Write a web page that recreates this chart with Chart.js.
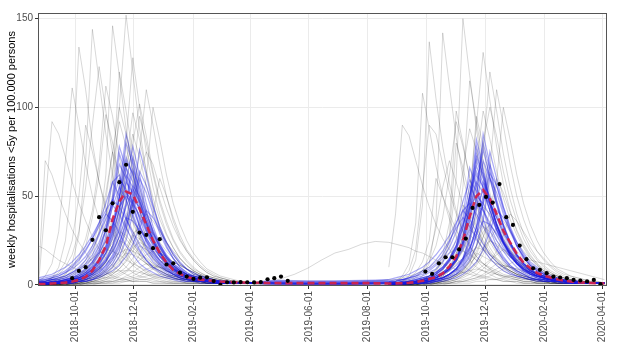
<!DOCTYPE html>
<html>
<head>
<meta charset="utf-8">
<script src="https://cdn.jsdelivr.net/npm/chart.js@4.4.1/dist/chart.umd.min.js"></script>
<style>
  body { margin: 0; background: #fff; }
  #plot { display: block; }
</style>
</head>
<body>
<canvas id="plot" width="631" height="352"></canvas>
<script>
// weekly model output (Fridays), 2018-08-24 .. 2020-04-03
const weeks = [
  '2018-08-24','2018-08-31','2018-09-07','2018-09-14','2018-09-21','2018-09-28','2018-10-05','2018-10-12','2018-10-19','2018-10-26',
  '2018-11-02','2018-11-09','2018-11-16','2018-11-23','2018-11-30','2018-12-07','2018-12-14','2018-12-21','2018-12-28','2019-01-04',
  '2019-01-11','2019-01-18','2019-01-25','2019-02-01','2019-02-08','2019-02-15','2019-02-22','2019-03-01','2019-03-08','2019-03-15',
  '2019-03-22','2019-03-29','2019-04-05','2019-04-12','2019-04-19','2019-04-26','2019-05-03','2019-05-10','2019-05-17','2019-05-24',
  '2019-05-31','2019-06-07','2019-06-14','2019-06-21','2019-06-28','2019-07-05','2019-07-12','2019-07-19','2019-07-26','2019-08-02',
  '2019-08-09','2019-08-16','2019-08-23','2019-08-30','2019-09-06','2019-09-13','2019-09-20','2019-09-27','2019-10-04','2019-10-11',
  '2019-10-18','2019-10-25','2019-11-01','2019-11-08','2019-11-15','2019-11-22','2019-11-29','2019-12-06','2019-12-13','2019-12-20',
  '2019-12-27','2020-01-03','2020-01-10','2020-01-17','2020-01-24','2020-01-31','2020-02-07','2020-02-14','2020-02-21','2020-02-28',
  '2020-03-06','2020-03-13','2020-03-20','2020-03-27','2020-04-03'
];
const weeksS1 = weeks.slice(0, 33);
const weeksS2 = weeks.slice(52);
const weeksSummer = ['2019-04-05','2019-04-19','2019-05-03','2019-05-17','2019-05-31','2019-06-14','2019-06-28','2019-07-12','2019-07-26','2019-08-09','2019-08-23'];

const tickDates = ['2018-10-01','2018-12-01','2019-02-01','2019-04-01','2019-06-01','2019-08-01','2019-10-01','2019-12-01','2020-02-01','2020-04-01'];
const yTicks = [0, 50, 100, 150];

// observed weekly hospitalisations
const obsDates = [
  '2018-09-28','2018-10-05','2018-10-12','2018-10-19','2018-10-26','2018-11-02','2018-11-09','2018-11-16','2018-11-23','2018-11-30',
  '2018-12-07','2018-12-14','2018-12-21','2018-12-28','2019-01-04','2019-01-11','2019-01-18','2019-01-25','2019-02-01','2019-02-08',
  '2019-02-15','2019-02-22','2019-03-01','2019-03-08','2019-03-15','2019-03-22','2019-03-29','2019-04-05','2019-04-12','2019-04-19',
  '2019-04-26','2019-05-03','2019-05-10',
  '2019-09-30','2019-10-07','2019-10-14','2019-10-21','2019-10-28','2019-11-04','2019-11-11','2019-11-18','2019-11-25','2019-12-02',
  '2019-12-09','2019-12-16','2019-12-23','2019-12-30','2020-01-06','2020-01-13','2020-01-20','2020-01-27','2020-02-03','2020-02-10',
  '2020-02-17','2020-02-24','2020-03-02','2020-03-09','2020-03-16','2020-03-23','2020-03-30'
];
const observed = [
  3.8,7.9,10,25.4,38.2,30.8,46,57.9,67.7,41.2,
  29.5,28.2,20.7,25.8,11.5,12.2,6.9,4.7,3.4,4.1,
  4.3,2.2,0,1.5,1.4,1.6,1.5,1.4,1.6,3.2,
  3.8,4.7,2.3,
  7.5,6.2,12.2,15.6,15.6,20,26.1,43.4,45.1,49.6,
  46.4,56.8,38.2,33.8,22.2,14.5,9.4,8.5,6.6,4.7,
  4.2,3.8,2.8,2.5,2,2.8,0.4
];

// median of the fitted runs (all weeks)
const median = [
  0.5,0.6,0.8,1,1.3,1.9,2.8,4.5,8,14,22,37,47,52.6,51,43,34,25,18,12.5,8.5,6.2,4.5,3.6,3,2.6,2.2,1.9,1.7,1.5,1.4,1.3,1.2,
  1.2,1.1,1.1,1,1,1,1,1,1,1,1,1,1,1,1,1,1,0.9,0.9,
  0.8,0.9,1,1.2,1.6,2.3,3.3,4.3,6.5,10.5,16,25,38.5,50,53.5,48.5,40,30.5,24,17.5,12.5,9.5,6.8,5.3,4.2,3.2,2.4,1.9,1.5,1.3,1.1,1,0.8
];

// fitted (blue) runs, season 2018/19 on weeksS1
const blueRunsS1 = [
  [1,1,1,2,2,3,4,6,9,14,22,34,55,85,70,52,38,27,19,13,9,6,5,4,3,2,2,2,1,1,1,1,1],
  [1,1,2,2,3,4,6,9,13,20,31,50,78,66,50,37,27,19,14,10,7,5,4,3,2,2,2,1,1,1,1,1,1],
  [0,1,1,1,1,2,2,3,5,7,11,17,28,46,72,58,42,30,21,15,10,7,5,4,3,2,2,1,1,1,1,1,1],
  [1,1,1,2,2,3,4,5,8,12,18,28,43,62,55,42,31,23,16,11,8,6,4,3,3,2,2,1,1,1,1,1,1],
  [2,2,3,4,5,7,10,14,20,28,40,58,50,38,28,20,14,10,7,5,4,3,2,2,2,1,1,1,1,1,1,1,1],
  [0,0,1,1,1,1,2,2,3,5,7,10,16,25,40,60,52,40,29,21,15,10,7,5,4,3,2,2,1,1,1,1,1],
  [1,1,1,2,3,4,6,8,12,19,30,48,68,60,45,33,24,17,12,8,6,4,3,3,2,2,1,1,1,1,1,1,1],
  [1,1,1,2,2,3,4,6,8,12,18,26,38,52,47,38,30,22,16,12,9,6,5,4,3,2,2,2,1,1,1,1,1],
  [1,1,1,1,2,2,3,4,6,8,11,16,24,34,48,44,36,28,21,15,11,8,6,4,3,3,2,2,1,1,1,1,1],
  [2,2,3,3,4,6,8,11,15,22,31,44,55,48,38,29,21,15,11,8,6,4,3,3,2,2,2,1,1,1,1,1,1],
  [0,1,1,1,2,2,3,4,7,11,18,30,50,80,68,50,36,25,17,12,8,5,4,3,2,2,1,1,1,1,1,1,1],
  [1,1,1,1,2,2,3,4,6,9,13,20,31,46,65,55,41,30,22,16,11,8,6,4,3,2,2,2,1,1,1,1,1],
  [3,3,4,5,7,9,12,16,22,29,37,45,40,32,25,19,14,10,8,6,4,3,3,2,2,2,1,1,1,1,1,1,1],
  [1,1,1,2,2,3,4,6,9,13,20,31,48,70,63,48,35,25,18,13,9,6,5,4,3,2,2,1,1,1,1,1,1],
  [0,0,1,1,1,1,2,2,3,4,6,8,11,16,23,32,42,38,31,24,18,13,9,7,5,4,3,2,2,1,1,1,1],
  [1,1,1,2,2,3,5,7,11,17,27,45,74,62,46,34,25,18,13,9,6,5,4,3,2,2,1,1,1,1,1,1,1],
  [1,1,1,1,1,2,2,3,5,7,10,15,23,36,56,50,40,31,23,17,12,9,6,5,4,3,2,2,2,1,1,1,1],
  [1,1,2,2,3,3,4,5,7,10,14,19,27,38,36,31,26,21,16,12,9,7,5,4,3,3,2,2,2,1,1,1,1],
  [3,4,5,6,8,11,15,20,26,33,40,36,29,22,17,12,9,7,5,4,3,2,2,2,1,1,1,1,1,1,1,1,1],
  [0,0,1,1,1,1,2,2,3,5,8,12,19,31,50,76,62,45,32,22,15,10,7,5,4,3,2,2,1,1,1,1,1],
  [2,3,4,5,7,10,14,19,26,35,46,58,62,52,40,30,22,16,12,9,6,5,4,3,2,2,2,1,1,1,1,1,1],
  [1,1,2,2,3,4,5,7,10,15,22,33,49,66,58,45,34,25,18,13,9,7,5,4,3,2,2,2,1,1,1,1,1],
  [0,1,1,1,1,2,3,4,6,9,14,22,36,58,78,62,46,33,23,16,11,8,6,4,3,2,2,1,1,1,1,1,1],
  [2,2,3,4,5,7,9,12,17,24,34,47,60,54,43,33,25,19,14,10,7,5,4,3,3,2,2,1,1,1,1,1,1],
  [1,1,1,1,2,2,3,5,7,10,15,22,32,44,54,47,38,29,22,16,12,9,6,5,4,3,2,2,2,1,1,1,1],
  [4,5,6,8,10,13,17,22,28,35,42,48,44,37,30,23,18,13,10,7,5,4,3,3,2,2,2,1,1,1,1,1,1],
  [1,1,1,2,2,3,4,6,9,14,21,32,50,72,62,47,35,26,19,14,10,7,5,4,3,2,2,1,1,1,1,1,1],
  [0,0,1,1,1,1,2,3,4,6,9,14,21,32,46,64,56,44,33,24,17,12,9,6,5,4,3,2,2,1,1,1,1],
  [1,1,2,2,3,4,5,7,10,14,20,29,42,58,52,42,32,24,18,13,9,7,5,4,3,2,2,2,1,1,1,1,1],
  [2,2,3,3,4,5,7,9,13,18,25,34,44,50,46,39,31,24,18,13,10,7,5,4,3,3,2,2,1,1,1,1,1]
];

// fitted (blue) runs, season 2019/20 on weeksS2
const blueRunsS2 = [
  [0,1,1,1,1,2,2,3,4,6,9,15,26,48,85,68,48,34,24,17,12,8,6,4,3,3,2,2,1,1,1,1,1],
  [1,1,1,1,2,2,3,4,6,9,14,24,44,78,64,47,34,24,17,12,8,6,4,3,3,2,2,1,1,1,1,1,1],
  [0,0,1,1,1,1,2,3,4,6,9,14,24,42,70,60,45,33,24,17,12,9,6,5,4,3,2,2,1,1,1,1,1],
  [1,1,1,1,2,3,4,5,7,10,15,24,38,62,55,42,31,23,16,12,8,6,5,4,3,2,2,1,1,1,1,1,1],
  [1,1,2,2,3,4,5,7,10,15,22,35,56,48,37,27,20,14,10,7,5,4,3,2,2,2,1,1,1,1,1,1,1],
  [0,0,0,1,1,1,1,2,3,4,6,9,14,22,36,60,52,40,30,22,16,11,8,6,4,3,3,2,2,1,1,1,1],
  [1,1,1,1,2,2,3,4,6,9,14,23,40,70,60,45,33,24,17,12,9,6,5,4,3,2,2,1,1,1,1,1,1],
  [0,1,1,1,1,2,2,3,4,6,9,13,20,32,50,46,38,30,23,17,12,9,7,5,4,3,2,2,2,1,1,1,1],
  [1,1,1,2,2,3,4,5,7,10,14,20,30,45,42,35,28,21,16,12,9,7,5,4,3,2,2,2,1,1,1,1,1],
  [1,1,1,2,2,3,4,6,9,14,22,38,66,56,42,31,22,16,11,8,6,4,3,3,2,2,1,1,1,1,1,1,1],
  [0,0,1,1,1,1,2,3,4,6,9,15,27,50,80,65,47,34,24,17,12,8,6,4,3,2,2,2,1,1,1,1,1],
  [0,0,0,1,1,1,2,2,3,5,7,11,17,28,45,68,56,42,31,22,16,11,8,6,4,3,2,2,1,1,1,1,1],
  [2,2,3,4,5,6,8,11,15,21,30,42,37,30,23,17,13,10,7,5,4,3,3,2,2,2,1,1,1,1,1,1,1],
  [1,1,1,1,2,2,3,4,6,9,14,24,44,74,62,46,34,24,17,12,9,6,5,4,3,2,2,1,1,1,1,1,1],
  [0,0,0,0,1,1,1,2,2,3,4,6,9,13,20,30,42,38,31,24,18,13,10,7,5,4,3,2,2,1,1,1,1],
  [0,1,1,1,1,2,3,4,6,9,15,26,48,82,66,48,34,24,17,12,8,6,4,3,2,2,2,1,1,1,1,1,1],
  [0,0,1,1,1,1,2,3,4,6,8,12,19,33,58,50,40,31,23,17,12,9,6,5,4,3,2,2,1,1,1,1,1],
  [1,1,1,2,2,3,3,4,6,8,11,15,21,29,36,34,29,24,19,14,11,8,6,5,4,3,2,2,2,1,1,1,1],
  [2,3,3,4,6,8,10,14,19,25,32,38,33,26,20,15,11,8,6,5,4,3,2,2,2,1,1,1,1,1,1,1,1],
  [0,0,0,1,1,1,1,2,3,4,6,10,16,28,48,75,60,44,32,22,15,11,8,6,4,3,2,2,1,1,1,1,1],
  [1,1,1,2,2,3,4,6,9,13,20,32,50,64,55,42,31,23,17,12,9,6,5,4,3,2,2,1,1,1,1,1,1],
  [1,1,2,2,3,4,5,7,10,15,22,33,50,67,57,45,34,25,18,13,9,7,5,4,3,2,2,2,1,1,1,1,1],
  [0,1,1,1,1,2,3,4,6,9,14,22,36,57,76,61,46,33,23,16,11,8,6,4,3,2,2,1,1,1,1,1,1],
  [2,2,3,4,5,7,9,12,17,24,34,47,59,53,43,33,25,19,14,10,7,5,4,3,3,2,2,1,1,1,1,1,1],
  [1,1,1,1,2,2,3,5,7,10,15,22,32,44,53,47,38,29,22,16,12,9,6,5,4,3,2,2,2,1,1,1,1],
  [3,4,5,6,8,10,13,17,22,28,35,42,46,40,33,26,20,15,11,8,6,4,3,3,2,2,2,1,1,1,1,1,1],
  [1,1,1,2,2,3,4,6,9,14,21,32,50,72,62,47,35,26,19,14,10,7,5,4,3,2,2,1,1,1,1,1,1],
  [0,0,1,1,1,1,2,3,4,6,9,14,21,32,46,63,56,44,33,24,17,12,9,6,5,4,3,2,2,1,1,1,1],
  [1,1,2,2,3,4,5,7,10,14,20,29,42,58,52,42,32,24,18,13,9,7,5,4,3,2,2,2,1,1,1,1,1],
  [2,2,3,3,4,5,7,9,13,18,25,34,44,50,46,39,31,24,18,13,10,7,5,4,3,3,2,2,1,1,1,1,1]
];

// prior (grey) runs, season 2018/19 on weeksS1
const greyRunsS1 = [
  [0,45,92,85,72,58,46,36,27,20,15,11,8,6,4,3,3,2,2,1,1,1,1,1,1,1,1,1,1,1,1,1,1],
  [5,70,62,50,40,31,24,18,13,10,7,5,4,3,2,2,2,1,1,1,1,1,1,1,1,1,1,1,1,1,1,1,1],
  [1,2,4,10,25,60,134,110,80,58,42,30,22,16,11,8,6,4,3,2,2,2,1,1,1,1,1,1,1,1,1,1,1],
  [1,1,2,3,6,12,28,70,144,115,85,62,45,33,24,17,12,9,6,5,4,3,2,2,1,1,1,1,1,1,1,1,1],
  [0,1,1,1,2,3,5,9,16,30,62,146,118,88,64,46,33,24,17,12,9,6,5,4,3,2,2,1,1,1,1,1,1],
  [0,0,1,1,1,2,3,5,8,14,25,50,100,152,120,88,64,46,33,24,17,12,9,6,5,4,3,2,2,1,1,1,1],
  [0,0,0,1,1,1,2,3,5,8,13,22,40,80,128,100,75,55,40,29,21,15,11,8,6,4,3,2,2,1,1,1,1],
  [0,0,0,0,1,1,1,2,3,4,6,10,16,27,45,75,110,90,68,50,36,26,19,14,10,7,5,4,3,2,2,1,1],
  [1,1,2,2,3,5,8,12,19,30,48,75,100,85,65,48,35,25,18,13,9,7,5,4,3,2,2,1,1,1,1,1,1],
  [1,2,3,4,6,10,16,26,42,68,112,95,72,53,39,28,20,15,11,8,6,4,3,2,2,1,1,1,1,1,1,1,1],
  [0,0,0,1,1,1,2,3,4,6,9,14,22,35,58,95,80,62,46,34,25,18,13,9,7,5,4,3,2,2,1,1,1],
  [2,3,4,6,10,17,30,55,90,123,98,74,55,41,30,22,16,12,9,6,5,4,3,2,2,1,1,1,1,1,1,1,1],
  [0,0,0,1,1,1,1,2,2,3,5,7,11,18,28,26,22,18,14,11,8,6,5,4,3,2,2,2,1,1,1,1,1],
  [0,0,0,0,0,1,1,1,2,2,3,5,7,10,15,22,20,17,14,11,8,6,5,4,3,2,2,1,1,1,1,1,1],
  [1,1,1,1,1,2,2,3,4,5,7,10,14,18,17,15,12,10,8,6,5,4,3,2,2,2,1,1,1,1,1,1,1],
  [0,0,0,0,0,0,1,1,1,1,2,2,3,5,7,10,12,11,10,8,7,5,4,3,3,2,2,1,1,1,1,1,1],
  [1,1,1,1,2,2,3,4,6,9,13,19,25,23,19,15,12,9,7,5,4,3,2,2,2,1,1,1,1,1,1,1,1],
  [0,0,0,0,0,0,0,0,1,1,1,1,2,2,3,4,5,6,6,5,5,4,3,3,2,2,2,1,1,1,1,1,1],
  [22,20,17,14,12,10,8,7,6,5,4,4,3,3,2,2,2,1,1,1,1,1,1,1,1,1,1,1,1,1,1,1,1],
  [0,0,0,0,0,0,1,1,1,2,2,3,5,7,11,17,26,40,60,50,38,28,20,15,11,8,6,4,3,2,2,1,1],
  [1,2,4,7,13,25,50,90,75,58,44,33,25,18,13,10,7,5,4,3,2,2,1,1,1,1,1,1,1,1,1,1,1],
  [0,1,1,1,2,3,4,7,11,18,32,60,120,98,74,55,40,29,21,15,11,8,6,4,3,2,2,1,1,1,1,1,1],
  [1,1,2,2,3,4,6,8,12,17,25,35,31,26,21,17,13,10,8,6,4,3,3,2,2,1,1,1,1,1,1,1,1],
  [0,0,0,0,0,0,0,1,1,1,1,2,2,3,4,5,7,9,12,15,13,11,9,7,5,4,3,2,2,1,1,1,1],
  [2,5,12,30,70,111,90,68,50,37,27,20,14,10,7,5,4,3,2,2,1,1,1,1,1,1,1,1,1,1,1,1,1],
  [0,0,1,1,1,2,3,4,6,10,16,26,42,65,85,72,56,42,31,23,17,12,9,6,5,4,3,2,2,1,1,1,1],
  [0,0,0,0,0,1,1,1,2,3,4,6,9,14,22,36,60,100,82,62,46,34,25,18,13,9,7,5,4,3,2,2,1],
  [1,1,2,3,4,6,9,14,22,34,52,75,62,48,36,27,20,15,11,8,6,4,3,2,2,1,1,1,1,1,1,1,1],
  [0,0,0,1,1,1,2,2,3,4,6,9,13,19,27,35,40,36,30,24,19,15,11,8,6,5,4,3,2,2,1,1,1],
  [1,1,1,2,2,3,4,5,7,9,12,15,18,20,19,17,15,12,10,8,6,5,4,3,3,2,2,1,1,1,1,1,1],
  [0,0,0,0,1,1,1,1,2,2,3,4,6,8,11,14,17,19,18,16,13,11,9,7,5,4,3,3,2,2,1,1,1],
  [0,0,1,1,1,2,2,3,4,6,8,11,15,21,29,32,28,23,18,14,11,8,6,5,4,3,2,2,1,1,1,1,1],
  [0,0,0,0,0,0,0,1,1,1,2,2,3,4,5,7,9,10,10,9,8,7,6,5,4,3,3,2,2,1,1,1,1],
  [1,1,1,1,2,2,3,3,4,5,6,7,8,8,8,7,6,5,5,4,3,3,2,2,2,1,1,1,1,1,1,1,1],
  [0,1,1,1,2,3,4,6,9,13,18,24,30,28,23,18,14,11,8,6,5,4,3,2,2,1,1,1,1,1,1,1,1],
  [0,0,0,0,0,1,1,1,2,3,4,6,9,13,19,26,31,29,24,19,15,11,9,7,5,4,3,2,2,1,1,1,1],
  [0,0,0,0,0,0,0,0,0,1,1,1,1,2,2,3,3,4,4,4,4,3,3,3,2,2,2,1,1,1,1,1,1],
  [2,2,3,4,5,7,9,12,15,18,20,19,17,14,12,10,8,6,5,4,3,3,2,2,1,1,1,1,1,1,1,1,1],
  [0,0,1,1,1,2,3,4,6,9,13,19,27,38,45,40,33,26,20,15,11,8,6,5,4,3,2,2,1,1,1,1,1],
  [0,0,0,0,1,1,1,2,3,4,6,8,12,16,21,24,22,19,16,13,10,8,6,5,4,3,2,2,2,1,1,1,1],
  [0,0,1,1,2,3,5,8,13,22,38,65,92,78,60,45,34,25,19,14,10,7,5,4,3,2,2,1,1,1,1,1,1],
  [1,1,2,3,5,8,13,22,38,62,96,80,61,46,35,26,19,14,10,8,6,4,3,2,2,1,1,1,1,1,1,1,1],
  [0,0,0,0,1,1,2,3,5,8,13,21,34,55,80,102,84,64,48,36,26,19,14,10,7,5,4,3,2,2,1,1,1],
  [0,0,0,1,1,2,3,4,7,11,17,27,43,68,97,82,64,49,37,28,21,15,11,8,6,4,3,2,2,1,1,1,1],
  [0,0,0,0,0,1,1,2,3,5,8,12,19,30,45,62,75,68,55,43,33,25,19,14,10,7,5,4,3,2,2,1,1]
];

// prior (grey) runs, season 2019/20 on weeksS2
const greyRunsS2 = [
  [0,1,2,5,14,45,137,105,78,57,42,30,22,16,12,9,6,5,4,3,2,2,1,1,1,1,1,1,1,1,1,1,1],
  [0,0,1,1,2,5,12,35,142,112,83,61,45,33,24,17,13,9,7,5,4,3,2,2,1,1,1,1,1,1,1,1,1],
  [0,0,0,1,1,2,3,6,12,25,60,150,118,88,64,47,34,25,18,13,9,7,5,4,3,2,2,1,1,1,1,1,1],
  [0,0,0,0,1,1,2,3,5,9,15,27,50,90,131,104,78,57,42,30,22,16,12,8,6,5,3,3,2,2,1,1,1],
  [0,0,0,0,0,1,1,2,3,5,8,14,24,42,75,120,98,74,55,40,29,21,15,11,8,6,4,3,2,2,1,1,1],
  [1,2,5,12,35,108,88,67,50,37,27,20,14,10,8,6,4,3,2,2,1,1,1,1,1,1,1,1,1,1,1,1,1],
  [10,40,90,84,70,56,44,34,26,20,15,11,8,6,5,4,3,2,2,1,1,1,1,1,1,1,1,1,1,1,1,1,1],
  [1,2,4,8,20,55,90,85,68,52,40,30,22,16,12,9,7,5,4,3,2,2,1,1,1,1,1,1,1,1,1,1,1],
  [0,0,0,1,1,2,3,5,8,14,26,55,115,92,70,52,38,28,20,15,11,8,6,4,3,2,2,1,1,1,1,1,1],
  [0,0,0,0,0,1,1,1,2,3,5,8,13,22,38,65,110,90,68,50,37,27,19,14,10,7,5,4,3,2,2,1,1],
  [0,0,0,0,0,0,1,1,1,2,3,5,8,12,20,34,58,100,82,62,46,34,25,18,13,9,7,5,4,3,2,2,1],
  [0,0,1,1,2,3,5,9,17,35,98,80,60,45,33,24,18,13,9,7,5,4,3,2,2,1,1,1,1,1,1,1,1],
  [0,0,0,0,1,1,1,2,2,3,5,8,13,21,33,30,25,20,16,12,9,7,5,4,3,3,2,2,1,1,1,1,1],
  [0,0,0,0,0,1,1,1,2,2,3,5,7,11,17,25,23,20,16,13,10,8,6,5,4,3,2,2,2,1,1,1,1],
  [1,1,1,1,1,2,2,2,3,4,5,7,10,18,16,14,12,10,8,6,5,4,3,3,2,2,2,1,1,1,1,1,1],
  [0,0,0,0,0,0,1,1,1,1,2,2,3,4,6,9,12,11,10,9,7,6,5,4,3,3,2,2,2,1,1,1,1],
  [1,1,1,1,2,2,3,4,6,9,13,20,28,25,21,17,13,10,8,6,5,4,3,2,2,2,1,1,1,1,1,1,1],
  [0,0,0,0,0,0,0,0,1,1,1,2,2,3,4,5,7,9,12,14,15,14,13,12,11,10,9,8,7,6,5,4,3],
  [24,23,22,21,19,18,16,14,12,10,9,7,6,5,4,3,3,2,2,2,1,1,1,1,1,1,1,1,1,1,1,1,1],
  [0,1,1,2,4,8,16,32,55,70,58,45,35,27,20,15,11,8,6,5,4,3,2,2,1,1,1,1,1,1,1,1,1],
  [0,0,0,0,1,1,2,3,5,8,13,24,48,95,78,60,45,33,24,18,13,9,7,5,4,3,2,2,1,1,1,1,1],
  [1,1,2,4,7,13,25,60,50,40,31,24,18,14,10,8,6,4,3,3,2,2,1,1,1,1,1,1,1,1,1,1,1],
  [0,0,0,0,0,0,0,1,1,1,2,3,4,6,9,13,19,28,40,36,30,24,19,15,11,8,6,5,4,3,2,2,1],
  [0,0,1,1,1,2,3,4,6,10,17,45,40,32,25,19,14,10,8,6,4,3,3,2,2,1,1,1,1,1,1,1,1],
  [0,0,1,1,2,3,5,8,14,28,80,66,50,38,28,21,15,11,8,6,4,3,2,2,1,1,1,1,1,1,1,1,1],
  [0,0,0,0,0,1,1,1,2,3,5,7,11,17,27,42,60,52,41,31,23,17,12,9,7,5,4,3,2,2,1,1,1],
  [0,0,0,1,1,1,2,2,3,4,6,9,13,19,27,35,40,36,30,24,19,15,11,8,6,5,4,3,2,2,1,1,1],
  [1,1,1,2,2,3,4,5,7,9,12,15,18,21,20,17,15,12,10,8,6,5,4,3,3,2,2,1,1,1,1,1,1],
  [0,0,0,0,1,1,1,1,2,2,3,4,6,8,11,14,17,20,18,16,13,11,9,7,5,4,3,3,2,2,1,1,1],
  [0,0,1,1,1,2,2,3,4,6,8,11,15,22,30,34,28,23,18,14,11,8,6,5,4,3,2,2,1,1,1,1,1],
  [0,0,0,0,0,0,0,1,1,1,2,2,3,4,5,7,9,11,10,9,8,7,6,5,4,3,3,2,2,1,1,1,1],
  [1,1,1,1,2,2,3,3,4,5,6,7,8,9,8,7,6,5,5,4,3,3,2,2,2,1,1,1,1,1,1,1,1],
  [0,1,1,1,2,3,4,6,9,13,18,24,31,28,23,18,14,11,8,6,5,4,3,2,2,1,1,1,1,1,1,1,1],
  [0,0,0,0,0,1,1,1,2,3,4,6,9,13,19,26,32,29,24,19,15,11,9,7,5,4,3,2,2,1,1,1,1],
  [0,0,0,0,0,0,0,0,0,1,1,1,1,2,2,3,3,4,5,4,4,3,3,3,2,2,2,1,1,1,1,1,1],
  [3,3,4,5,6,8,10,13,16,18,20,19,17,14,12,10,8,6,5,4,3,3,2,2,1,1,1,1,1,1,1,1,1],
  [0,0,1,1,1,2,3,4,6,9,13,19,27,38,44,40,33,26,20,15,11,8,6,5,4,3,2,2,1,1,1,1,1],
  [0,0,0,0,1,1,1,2,3,4,6,8,12,16,21,25,22,19,16,13,10,8,6,5,4,3,2,2,2,1,1,1,1],
  [0,0,1,1,2,3,5,8,13,22,38,65,88,76,60,45,34,25,19,14,10,7,5,4,3,2,2,1,1,1,1,1,1],
  [1,1,2,3,5,8,13,22,38,62,92,78,61,46,35,26,19,14,10,8,6,4,3,2,2,1,1,1,1,1,1,1,1],
  [0,0,0,0,1,1,2,3,5,8,13,21,34,55,80,100,84,64,48,36,26,19,14,10,7,5,4,3,2,2,1,1,1],
  [0,0,0,1,1,2,3,4,7,11,17,27,43,68,98,82,64,49,37,28,21,15,11,8,6,4,3,2,2,1,1,1,1]
];

// runs between the seasons, on weeksSummer
const blueSummer = [
  [1,1.2,1.2,1.1,1.1,1.1,1.1,1.1,1.1,1.2,1.2],
  [1,0.9,0.8,0.7,0.7,0.7,0.7,0.7,0.8,0.9,1],
  [1,1.6,1.8,1.7,1.7,1.7,1.7,1.7,1.8,1.9,2],
  [1,0.5,0.4,0.3,0.3,0.3,0.3,0.4,0.4,0.5,0.6],
  [1,1.1,1,0.9,0.9,0.9,0.9,0.9,1,1.1,1.3],
  [1,1.5,1.4,1.3,1.3,1.3,1.3,1.3,1.4,1.6,1.8],
  [1,0.8,0.6,0.5,0.5,0.5,0.5,0.5,0.6,0.8,1],
  [1,2,2.2,2.1,2,2,2,2.1,2.2,2.4,2.6],
  [1,0.6,0.5,0.4,0.4,0.4,0.4,0.4,0.5,0.6,0.8],
  [1,1.3,1.2,1.1,1,1,1,1.1,1.2,1.4,1.6],
  [1,2.4,2.5,2.4,2.3,2.3,2.3,2.4,2.5,2.7,3]
];
const greySummer = [
  [1,1,1,1,1,1,1,1,1,1,1],
  [0.5,1.5,3.5,6,9.5,14,18,20,23,24.5,24],
  [2,1.5,1,1,1,1,1,1,1.5,2,3],
  [0.3,0.3,0.2,0.2,0.2,0.2,0.2,0.2,0.3,0.4,0.5],
  [1.5,1.2,0.8,0.6,0.5,0.5,0.5,0.6,0.8,1.2,1.6]
];

const day0 = Date.parse('2018-10-01');
function toDay(s) { return (Date.parse(s) - day0) / 864e5; }
function points(dates, vals) {
  const n = Math.min(dates.length, vals.length);
  const out = [];
  for (let i = 0; i < n; i++) out.push({ x: toDay(dates[i]), y: vals[i] });
  return out;
}

const GREY = 'rgba(0,0,0,0.2)';
const BLUE = 'rgba(25,25,225,0.36)';

function runSet(dates, runs, color, width, order) {
  return runs.map(r => ({
    data: points(dates, r),
    borderColor: color,
    borderWidth: width,
    pointRadius: 0,
    tension: 0,
    fill: false,
    order: order
  }));
}

const datasets = [
  {
    data: points(obsDates, observed),
    showLine: false,
    pointRadius: 2.1,
    pointBackgroundColor: '#000',
    pointBorderWidth: 0,
    order: 0
  },
  {
    data: points(weeks, median),
    borderColor: 'rgba(210,35,75,0.95)',
    borderWidth: 2.6,
    borderDash: [7, 4],
    pointRadius: 0,
    tension: 0,
    order: 1
  },
  ...runSet(weeksS1, blueRunsS1, BLUE, 1.2, 2),
  ...runSet(weeksS2, blueRunsS2, BLUE, 1.2, 2),
  ...runSet(weeksSummer, blueSummer, BLUE, 1.4, 2),
  ...runSet(weeksS1, greyRunsS1, GREY, 0.8, 3),
  ...runSet(weeksS2, greyRunsS2, GREY, 0.8, 3),
  ...runSet(weeksSummer, greySummer, GREY, 0.8, 3)
];

const panelBorder = {
  id: 'panelBorder',
  afterDatasetsDraw(chart) {
    const a = chart.chartArea, c = chart.ctx;
    c.save();
    c.strokeStyle = '#555';
    c.lineWidth = 1;
    c.strokeRect(a.left + 0.5, a.top + 0.5, a.right - a.left - 1, a.bottom - a.top - 1);
    c.restore();
  }
};

const tickFont = { family: 'Liberation Sans', size: 10 };

new Chart(document.getElementById('plot'), {
  type: 'line',
  data: { datasets: datasets },
  options: {
    responsive: false,
    animation: false,
    devicePixelRatio: 1,
    layout: { padding: { top: 13, right: 24, left: 0, bottom: 0 } },
    plugins: { legend: { display: false }, tooltip: { enabled: false } },
    scales: {
      x: {
        type: 'linear',
        min: -38.5,
        max: 552.7,
        afterBuildTicks: s => { s.ticks = tickDates.map(d => ({ value: toDay(d) })); },
        afterFit: s => { s.height = 66; },
        ticks: {
          autoSkip: false,
          minRotation: 90,
          maxRotation: 90,
          padding: 2,
          color: '#4d4d4d',
          font: tickFont,
          callback: (v, i) => tickDates[i]
        },
        grid: { color: '#ebebeb', lineWidth: 1, tickColor: '#333', tickLength: 3 },
        border: { display: false }
      },
      y: {
        min: -0.6,
        max: 153.2,
        afterBuildTicks: s => { s.ticks = yTicks.map(v => ({ value: v })); },
        afterFit: s => { s.width = 38; },
        ticks: {
          padding: 2,
          color: '#4d4d4d',
          font: tickFont,
          callback: v => String(v)
        },
        grid: { color: '#ebebeb', lineWidth: 1, tickColor: '#333', tickLength: 3 },
        border: { display: false },
        title: {
          display: true,
          text: 'weekly hospitalisations <5y per 100.000 persons',
          color: '#000',
          font: { family: 'Liberation Sans', size: 11 },
          padding: { top: 5, bottom: 0 }
        }
      }
    }
  },
  plugins: [panelBorder]
});
</script>
</body>
</html>
